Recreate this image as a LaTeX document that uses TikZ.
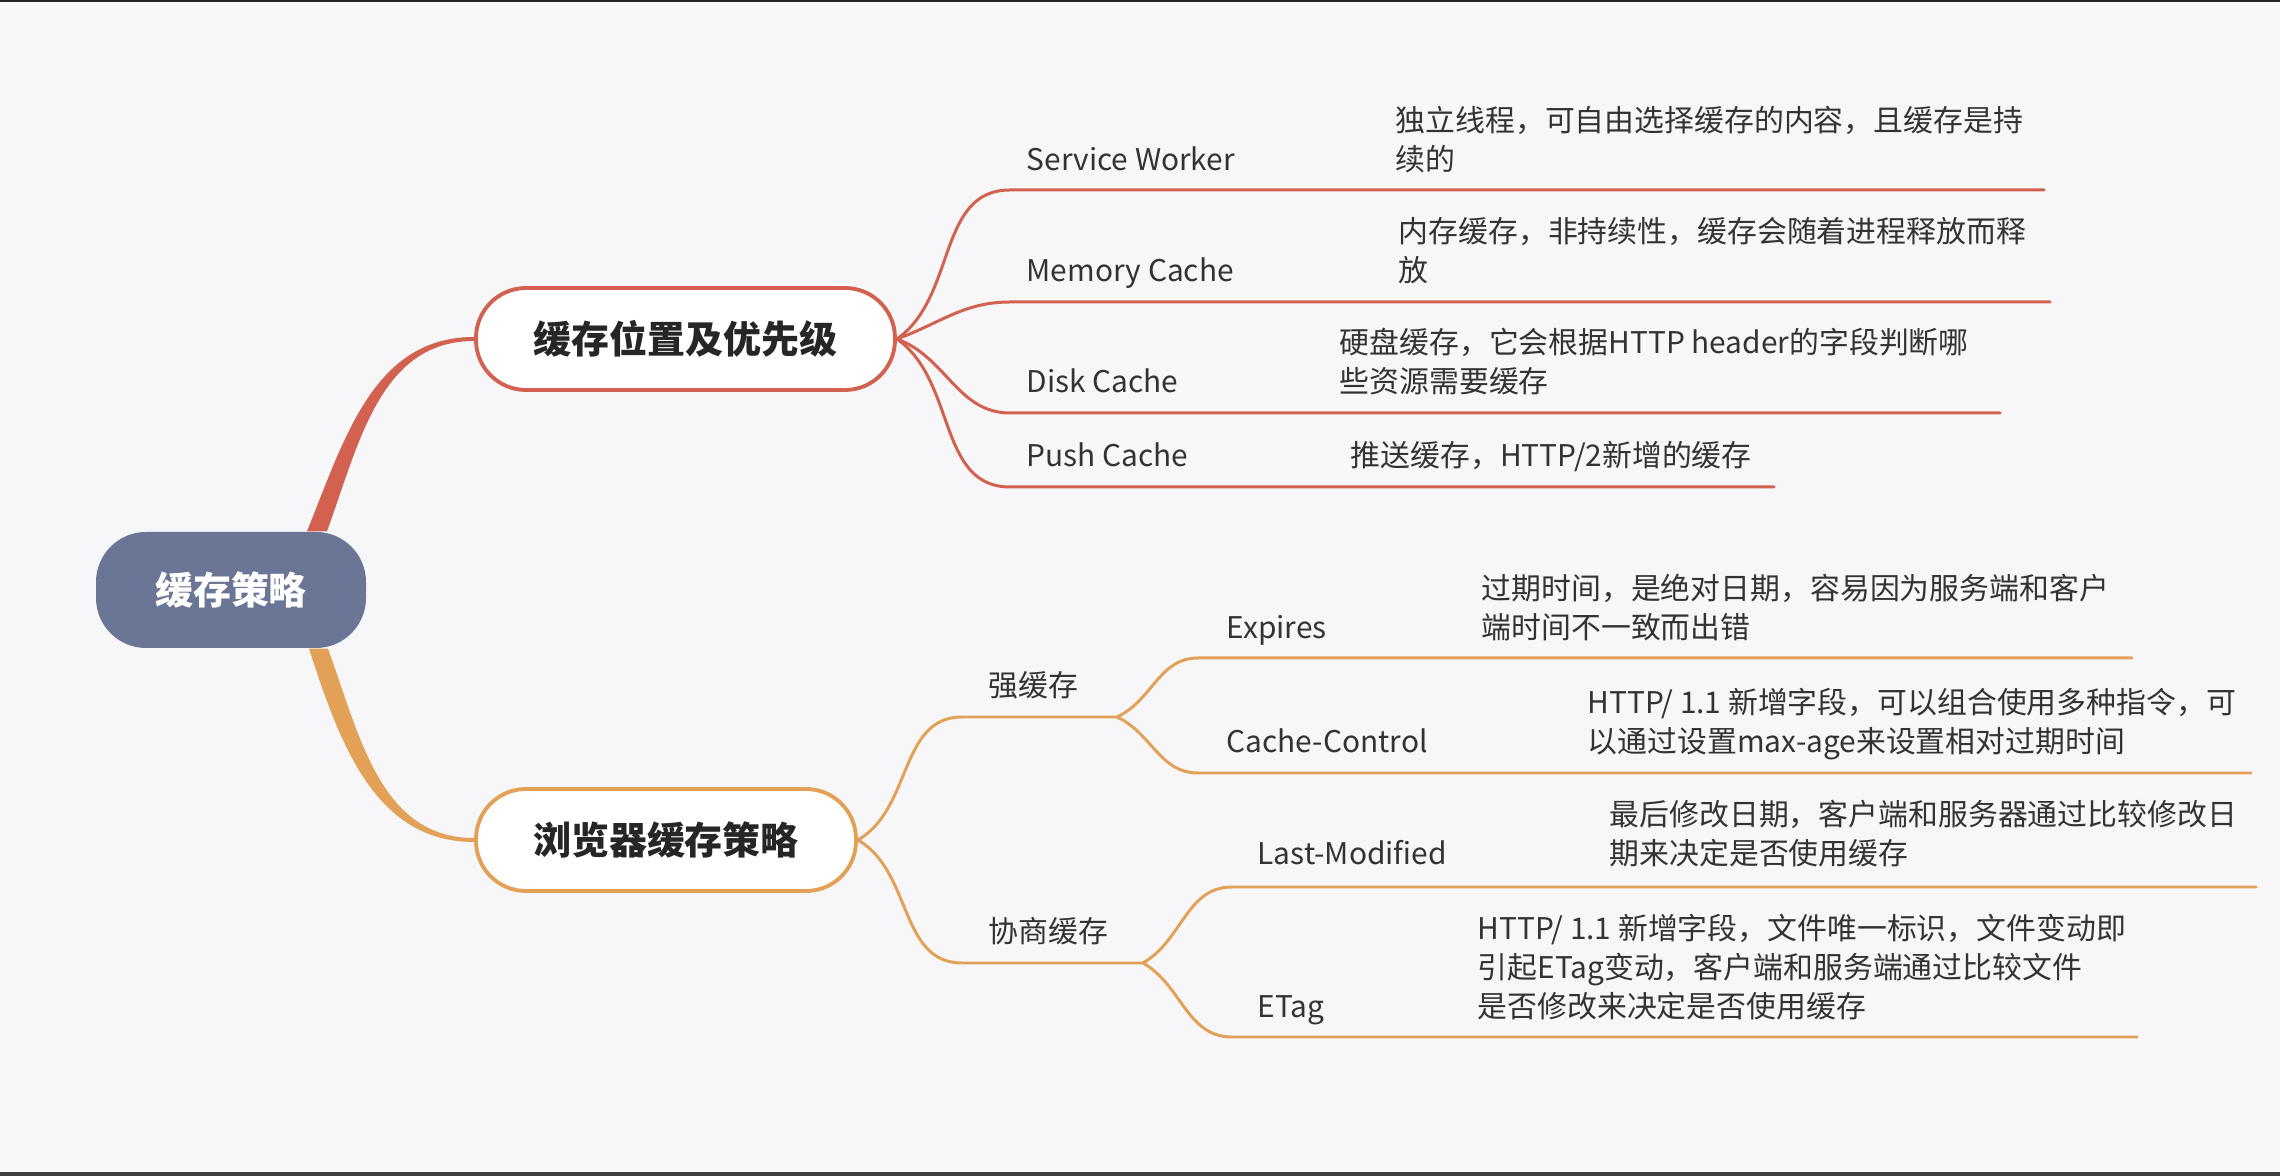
\documentclass[tikz,border=0pt]{standalone}
\usepackage{fontspec}
\setmainfont{Noto Sans CJK SC}
\usepackage{tikz}
\usetikzlibrary{positioning,calc}
\definecolor{MapRed}{HTML}{D3614F}
\definecolor{MapOrange}{HTML}{E3A157}
\definecolor{MapSlate}{HTML}{6B7596}
\definecolor{MapPaper}{HTML}{F7F7F9}
\definecolor{MapInk}{HTML}{333333}
\tikzset{
  redlink/.style={draw=MapRed, line width=0.85pt, line cap=round},
  orangelink/.style={draw=MapOrange, line width=0.85pt, line cap=round},
  leaflabel/.style={anchor=base west, inner sep=0pt, text=MapInk,
    font=\fontsize{8.5}{11.1}\selectfont},
  leafnote/.style={leaflabel, align=left}
}

\begin{document}
\begin{tikzpicture}[
  rootbox/.style={fill=MapSlate, rounded corners=5mm, minimum width=2.70cm, minimum height=1.16cm,
    text=white, font=\fontsize{10.8}{13}\selectfont\bfseries},
  topicbox/.style={draw, fill=white, line width=1.1pt, rounded corners=5mm, minimum height=1.02cm,
    text=black!85, font=\fontsize{10.8}{13}\selectfont\bfseries}
]
\useasboundingbox (0,0) rectangle (22.8,-11.76);
\fill[MapPaper] (0,0) rectangle (22.8,-11.76);
\fill[black!85] (0,0) rectangle (22.8,-0.02);
\fill[black!75] (0,-11.72) rectangle (22.8,-11.76);

\node[rootbox] at (2.31,-5.90) (root) {缓存策略};
\node[topicbox, draw=MapRed, minimum width=4.19cm] at (6.855,-3.39) (loc) {缓存位置及优先级};
\node[topicbox, draw=MapOrange, minimum width=3.80cm] at (6.66,-8.40) (strat) {浏览器缓存策略};

\fill[MapRed] ([xshift=7.6mm]root.north) to[out=68,in=180] ([yshift=0.2mm]loc.west)
  -- ([yshift=-0.2mm]loc.west) to[out=180,in=70] ([xshift=9.6mm]root.north) -- cycle;
\fill[MapOrange] ([xshift=7.8mm]root.south) to[out=-72,in=180] ([yshift=-0.2mm]strat.west)
  -- ([yshift=0.2mm]strat.west) to[out=180,in=-70] ([xshift=9.7mm]root.south) -- cycle;

\coordinate (sw-in) at (10.10,-1.90);   \coordinate (sw-out) at (20.44,-1.90);
\coordinate (mem-in) at (10.10,-3.02);  \coordinate (mem-out) at (20.50,-3.02);
\coordinate (disk-in) at (10.10,-4.13); \coordinate (disk-out) at (20.00,-4.13);
\coordinate (push-in) at (10.10,-4.87); \coordinate (push-out) at (17.74,-4.87);
\draw[redlink] (loc.east) to[out=35,in=180] (sw-in) -- (sw-out);
\draw[redlink] (loc.east) to[out=20,in=180] (mem-in) -- (mem-out);
\draw[redlink] (loc.east) to[out=-20,in=180] (disk-in) -- (disk-out);
\draw[redlink] (loc.east) to[out=-35,in=180] (push-in) -- (push-out);

\node[leaflabel] at (10.26,-1.71) (sw) {Service Worker};
\node[leaflabel] at (10.26,-2.82) (mem) {Memory Cache};
\node[leaflabel] at (10.26,-3.93) (disk) {Disk Cache};
\node[leaflabel] at (10.26,-4.67) (push) {Push Cache};
\node[leafnote] at (13.95,-1.71) (swnote) {独立线程，可自由选择缓存的内容，且缓存是持\\续的};
\node[leafnote] at (13.98,-2.82) (memnote) {内存缓存，非持续性，缓存会随着进程释放而释\\放};
\node[leafnote] at (13.39,-3.93) (disknote) {硬盘缓存，它会根据HTTP header的字段判断哪\\些资源需要缓存};
\node[leafnote] at (13.50,-4.67) (pushnote) {推送缓存，HTTP/2新增的缓存};

\coordinate (strong-in) at (9.62,-7.17);  \coordinate (strong-out) at (11.17,-7.17);
\coordinate (nego-in) at (9.62,-9.63);    \coordinate (nego-out) at (11.43,-9.63);
\coordinate (exp-in) at (11.98,-6.58);    \coordinate (exp-out) at (21.32,-6.58);
\coordinate (cc-in) at (11.98,-7.73);     \coordinate (cc-out) at (22.51,-7.73);
\coordinate (lm-in) at (12.32,-8.87);     \coordinate (lm-out) at (22.56,-8.87);
\coordinate (etag-in) at (12.32,-10.37);  \coordinate (etag-out) at (21.37,-10.37);
\draw[orangelink] (strat.east) to[out=30,in=180] (strong-in) -- (strong-out);
\draw[orangelink] (strat.east) to[out=-30,in=180] (nego-in) -- (nego-out);
\draw[orangelink] (strong-out) to[out=25,in=180] (exp-in) -- (exp-out);
\draw[orangelink] (strong-out) to[out=-25,in=180] (cc-in) -- (cc-out);
\draw[orangelink] (nego-out) to[out=30,in=180] (lm-in) -- (lm-out);
\draw[orangelink] (nego-out) to[out=-30,in=180] (etag-in) -- (etag-out);

\node[leaflabel] at (9.88,-6.97) (strong) {强缓存};
\node[leaflabel] at (9.88,-9.43) (nego) {协商缓存};
\node[leaflabel] at (12.26,-6.39) (expires) {Expires};
\node[leaflabel] at (12.26,-7.53) (cachectl) {Cache-Control};
\node[leaflabel] at (12.57,-8.65) (lastmod) {Last-Modified};
\node[leaflabel] at (12.57,-10.18) (etag) {ETag};
\node[leafnote] at (14.81,-6.39) (expnote) {过期时间，是绝对日期，容易因为服务端和客户\\端时间不一致而出错};
\node[leafnote] at (15.87,-7.53) (ccnote) {HTTP/ 1.1 新增字段，可以组合使用多种指令，可\\以通过设置max-age来设置相对过期时间};
\node[leafnote] at (16.09,-8.65) (lmnote) {最后修改日期，客户端和服务器通过比较修改日\\期来决定是否使用缓存};
\node[leafnote] at (14.77,-10.18) (etagnote) {HTTP/ 1.1 新增字段，文件唯一标识，文件变动即\\引起ETag变动，客户端和服务端通过比较文件\\是否修改来决定是否使用缓存};
\end{tikzpicture}
\end{document}
